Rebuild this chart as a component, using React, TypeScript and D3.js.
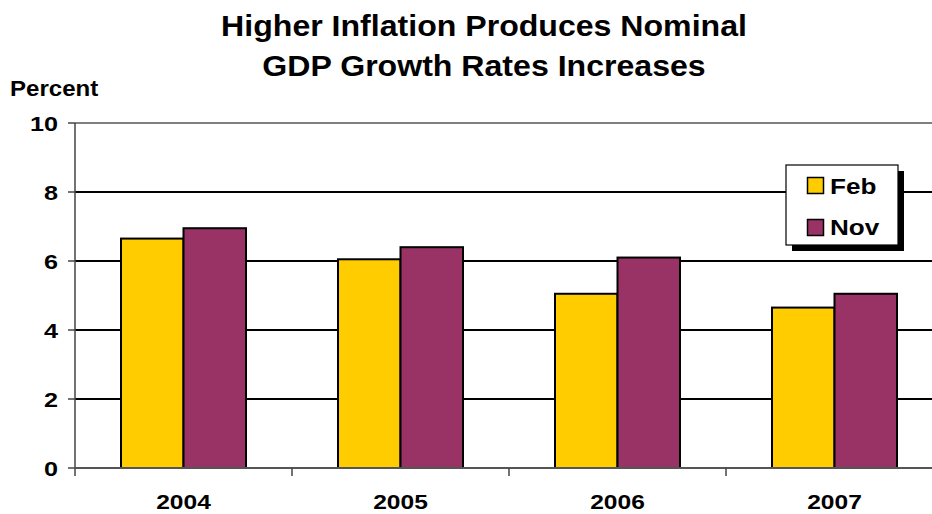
import React from "react";
import * as d3 from "d3";

const categories = ["2004", "2005", "2006", "2007"];
const seriesNames = ["Feb", "Nov"];
const febValues = [6.65, 6.05, 5.05, 4.65];
const novValues = [6.95, 6.4, 6.1, 5.05];
const yTicks = [0, 2, 4, 6, 8, 10];
const colors = ["#FFCC00", "#993366"];

const W = 932;
const H = 514;
const left = 75;
const top = 123;
const bottom = 468;
const catWidth = 217;

function ST({
  x,
  y,
  sx,
  size,
  anchor,
  children,
}: {
  x: number;
  y: number;
  sx: number;
  size: number;
  anchor: "start" | "middle" | "end";
  children: React.ReactNode;
}) {
  return (
    <g transform={`translate(${x},${y}) scale(${sx},1)`}>
      <text x={0} y={0} textAnchor={anchor} fontSize={size} fontWeight="bold">
        {children}
      </text>
    </g>
  );
}

export default function App() {
  const x = d3
    .scaleBand<string>()
    .domain(categories)
    .range([left, left + catWidth * categories.length]);
  const y = d3.scaleLinear().domain([0, 10]).range([bottom, top]);
  const barW = 62.5;
  const series = [febValues, novValues];
  const font = "'Liberation Sans', Arial, sans-serif";

  return (
    <svg
      width={W}
      height={H}
      style={{ position: "absolute", left: 0, top: 0, fontFamily: font }}
    >
      <rect x={0} y={0} width={W} height={H} fill="#fff" />
      <ST x={484} y={36} sx={1.07} size={30} anchor="middle">
        Higher Inflation Produces Nominal
      </ST>
      <ST x={484} y={76} sx={1.07} size={30} anchor="middle">
        GDP Growth Rates Increases
      </ST>
      <ST x={10} y={96} sx={1.12} size={21.5} anchor="start">
        Percent
      </ST>
      {yTicks.map((t) => (
        <g key={t}>
          {t > 0 && (
            <line
              x1={left}
              x2={W}
              y1={y(t)}
              y2={y(t)}
              stroke={t === 10 ? "#808080" : "#000"}
              strokeWidth={2}
            />
          )}
          <line x1={68} x2={left} y1={y(t)} y2={y(t)} stroke="#444" strokeWidth={1.5} />
          <ST x={58} y={y(t) + 7.5} sx={1.2} size={21} anchor="end">
            {t}
          </ST>
        </g>
      ))}
      {categories.map((c, i) =>
        series.map((vals, s) => {
          const cx = x(c)! + x.bandwidth() / 2;
          const bx = cx - barW + s * barW;
          return (
            <rect
              key={c + s}
              x={bx}
              y={y(vals[i])}
              width={barW}
              height={y(0) - y(vals[i])}
              fill={colors[s]}
              stroke="#000"
              strokeWidth={2}
            />
          );
        })
      )}
      <line x1={left} x2={left} y1={top} y2={bottom + 8} stroke="#444" strokeWidth={1.5} />
      <line x1={left} x2={W} y1={bottom} y2={bottom} stroke="#555" strokeWidth={2} />
      {categories.map((c, i) => (
        <g key={c}>
          {i > 0 && (
            <line
              x1={x(c)!}
              x2={x(c)!}
              y1={bottom}
              y2={bottom + 8}
              stroke="#444"
              strokeWidth={1.5}
            />
          )}
          <ST x={x(c)! + x.bandwidth() / 2} y={509} sx={1.17} size={21} anchor="middle">
            {c}
          </ST>
        </g>
      ))}
      <g>
        <rect x={792} y={171} width={112} height={80} fill="#000" />
        <rect x={786} y={165} width={112} height={80} fill="#fff" stroke="#000" strokeWidth={1.2} />
        {seriesNames.map((n, s) => (
          <g key={n}>
            <rect
              x={807.5}
              y={177.5 + s * 42}
              width={16}
              height={16}
              fill={colors[s]}
              stroke="#000"
              strokeWidth={1.5}
            />
            <ST x={830} y={194 + s * 41} sx={1.16} size={22.5} anchor="start">
              {n}
            </ST>
          </g>
        ))}
      </g>
    </svg>
  );
}
